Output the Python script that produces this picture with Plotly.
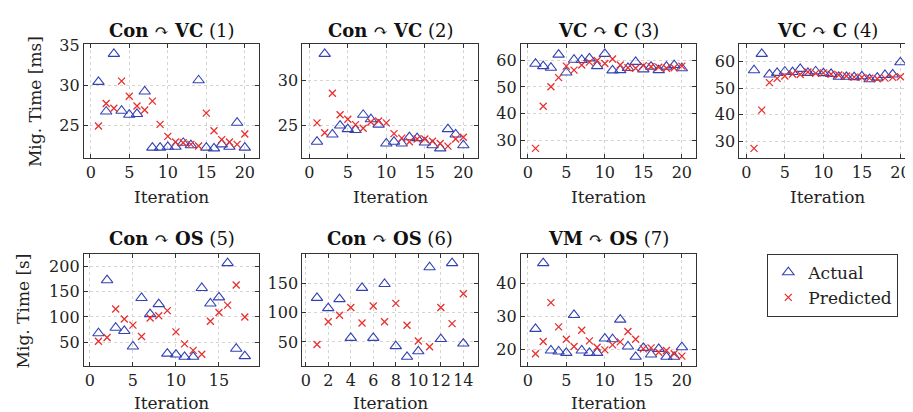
import plotly.graph_objects as go

# ---------------- data ----------------
it20 = list(range(1, 21))
it18 = list(range(1, 19))
it14 = list(range(1, 15))

p1_actual = [30.4, 26.7, 33.9, 26.8, 26.3, 26.4, 29.2, 22.2, 22.2, 22.3,
             22.3, 22.8, 22.5, 30.6, 22.2, 22.1, 22.6, 22.3, 25.3, 22.2]
p1_pred = [24.9, 27.7, 27.1, 30.5, 28.6, 27.4, 26.9, 28.0, 25.1, 23.6,
           22.9, 22.8, 22.6, 22.4, 26.5, 24.3, 23.2, 22.9, 22.6, 23.9]

p2_actual = [23.2, 33.0, 24.0, 25.0, 24.6, 24.5, 26.2, 25.7, 25.1, 23.0,
             23.2, 23.0, 23.7, 23.6, 23.1, 22.8, 22.45, 24.6, 24.0, 22.8]
p2_pred = [25.3, 24.2, 28.6, 26.2, 25.7, 25.1, 24.7, 25.4, 25.5, 25.3,
           24.1, 23.6, 23.2, 23.5, 23.5, 23.25, 23.0, 22.7, 23.5, 23.7]

p3_actual = [58.7, 57.8, 57.2, 62.1, 55.4, 60.2, 60.1, 60.7, 57.8, 62.4,
             56.2, 56.3, 57.1, 59.4, 56.6, 57.6, 56.3, 57.6, 58.2, 57.0]
p3_pred = [27.0, 42.8, 50.1, 53.5, 57.8, 56.3, 58.2, 59.3, 59.9, 58.8,
           60.5, 58.2, 57.2, 57.0, 58.0, 57.6, 57.4, 57.0, 57.2, 57.8]

p4_actual = [56.8, 63.0, 55.2, 55.8, 56.3, 56.1, 57.3, 55.8, 56.4, 55.7,
             55.4, 54.3, 54.3, 54.2, 54.5, 53.4, 54.0, 55.0, 55.2, 59.8]
p4_pred = [27.2, 41.7, 52.1, 53.7, 54.6, 55.4, 55.2, 56.1, 55.6, 55.8,
           55.3, 55.0, 54.6, 54.2, 54.1, 53.8, 53.6, 53.8, 54.1, 54.3]

p5_actual = [67.9, 172.6, 78.7, 72.4, 41.7, 137.5, 105.6, 125.3, 27.7, 25.8,
             21.3, 21.3, 157.2, 126.6, 138.7, 206.4, 37.3, 22.6]
p5_pred = [52.0, 59.6, 115.8, 96.0, 83.9, 61.5, 97.9, 102.4, 112.6, 70.5,
           46.8, 34.1, 26.4, 91.5, 108.7, 123.4, 163.0, 99.8]

p6_actual = [125.3, 107.7, 123.1, 57.1, 142.3, 57.1, 148.9, 42.9, 24.7, 34.1,
             177.5, 55.0, 184.6, 47.3]
p6_pred = [45.6, 84.6, 95.6, 108.8, 82.4, 111.5, 84.6, 115.9, 78.6, 51.6,
           41.8, 108.8, 81.3, 132.4]

p7_actual = [26.3, 46.1, 19.8, 19.5, 19.1, 30.5, 19.8, 19.1, 19.1, 23.4,
             23.2, 29.1, 21.0, 17.9, 20.6, 18.6, 20.3, 17.9, 17.9, 20.8]
p7_pred = [18.8, 22.5, 34.2, 26.9, 23.2, 21.0, 25.9, 22.7, 20.8, 20.0,
           21.5, 22.4, 25.5, 23.2, 20.3, 20.6, 19.3, 19.8, 18.8, 18.1]

titles = [("Con", "VC", "(1)"), ("Con", "VC", "(2)"), ("VC", "C", "(3)"),
          ("VC", "C", "(4)"), ("Con", "OS", "(5)"), ("Con", "OS", "(6)"),
          ("VM", "OS", "(7)")]
xticks = [[0, 5, 10, 15, 20]] * 4 + [[0, 5, 10, 15], [0, 2, 4, 6, 8, 10, 12, 14],
                                      [0, 5, 10, 15, 20]]
yticks = [[25, 30, 35], [25, 30], [30, 40, 50, 60], [30, 40, 50, 60],
          [50, 100, 150, 200], [50, 100, 150], [20, 30, 40]]
ylabels = ["Mig. Time [ms]", "Mig. Time [s]"]
legend_names = ["Actual", "Predicted"]

panels = [(it20, p1_actual, p1_pred), (it20, p2_actual, p2_pred),
          (it20, p3_actual, p3_pred), (it20, p4_actual, p4_pred),
          (it18, p5_actual, p5_pred), (it14, p6_actual, p6_pred),
          (it20, p7_actual, p7_pred)]

# ---------------- layout geometry ----------------
W, H = 913, 412
col_px = [(74, 250), (293, 469), (512, 688), (731, 907)]
row_px = [(28, 144), (242, 357)]

BLUE = "#3242b4"
RED = "#e8302e"
FONT = "DejaVu Serif"
AX = "#333333"
TXT = "#222222"

fig = go.Figure()
layout = dict(
    width=W, height=H, margin=dict(l=0, r=0, t=0, b=0),
    paper_bgcolor="white", plot_bgcolor="white",
    font=dict(family=FONT, size=16, color=TXT),
    showlegend=True,
    legend=dict(x=759 / W, y=1 - 242 / H, xanchor="left", yanchor="top",
                bordercolor=AX, borderwidth=1, bgcolor="white",
                font=dict(family=FONT, size=17, color=TXT),
                itemwidth=30, tracegroupgap=0),
)
annotations = []


def enlarge(lo, hi, f=0.1):
    d = (hi - lo) * f
    return [lo - d, hi + d]


for i, (xs, act, pred) in enumerate(panels):
    r, c = (0, i) if i < 4 else (1, i - 4)
    x0, x1 = col_px[c]
    y0, y1 = row_px[r]
    n = i + 1
    xa = "xaxis" if n == 1 else f"xaxis{n}"
    ya = "yaxis" if n == 1 else f"yaxis{n}"
    allv = act + pred
    common = dict(showline=True, linecolor=AX, linewidth=1, mirror="ticks",
                  ticks="inside", ticklen=4, tickcolor=AX, zeroline=False,
                  showgrid=True, gridcolor="#d4d4d4", griddash="dot", gridwidth=0.8,
                  tickfont=dict(family=FONT, size=16, color=TXT))
    layout[xa] = dict(domain=[x0 / W, x1 / W], anchor=f"y{n}",
                      range=enlarge(min(xs), max(xs)), tickvals=xticks[i], **common)
    layout[ya] = dict(domain=[1 - y1 / H, 1 - y0 / H], anchor=f"x{n}",
                      range=enlarge(min(allv), max(allv)), tickvals=yticks[i], **common)
    fig.add_trace(go.Scatter(
        x=xs, y=act, mode="markers", name=legend_names[0],
        xaxis=f"x{n}", yaxis=f"y{n}", showlegend=(i == 0), legendgroup="a",
        marker=dict(symbol="triangle-up-open", size=10, color=BLUE,
                    line=dict(color=BLUE, width=1.1))))
    fig.add_trace(go.Scatter(
        x=xs, y=pred, mode="markers", name=legend_names[1],
        xaxis=f"x{n}", yaxis=f"y{n}", showlegend=(i == 0), legendgroup="p",
        marker=dict(symbol="x-thin-open", size=7, color=RED,
                    line=dict(color=RED, width=1.3))))
    a, b, tag = titles[i]
    ty = 14 if r == 0 else 226
    annotations.append(dict(
        text=f"<b>{a}</b> \u21b7 <b>{b}</b> {tag}", x=(x0 + x1) / 2 / W,
        y=1 - ty / H, xref="paper", yref="paper", showarrow=False,
        xanchor="center", yanchor="middle",
        font=dict(family=FONT, size=18, color="#111111")))
    iy = 184 if r == 0 else 395
    annotations.append(dict(
        text="Iteration", x=(x0 + x1) / 2 / W, y=1 - iy / H, xref="paper",
        yref="paper", showarrow=False, xanchor="center", yanchor="middle",
        font=dict(family=FONT, size=17, color=TXT)))

annotations.append(dict(text=ylabels[0], x=25 / W, y=1 - 86 / H, xref="paper",
                        yref="paper", showarrow=False, textangle=-90,
                        xanchor="center", yanchor="middle",
                        font=dict(family=FONT, size=17, color=TXT)))
annotations.append(dict(text=ylabels[1], x=13 / W, y=1 - 300 / H, xref="paper",
                        yref="paper", showarrow=False, textangle=-90,
                        xanchor="center", yanchor="middle",
                        font=dict(family=FONT, size=17, color=TXT)))
layout["annotations"] = annotations
fig.update_layout(**layout)
fig.write_html("out.html")
